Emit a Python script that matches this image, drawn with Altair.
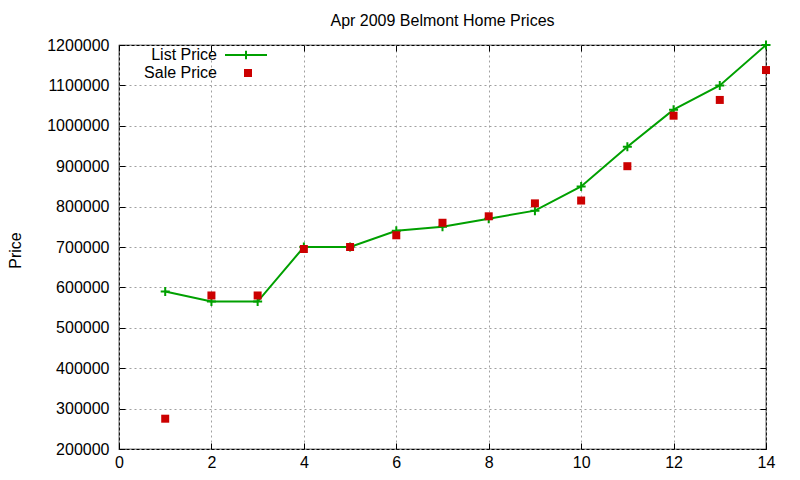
import altair as alt
import pandas as pd

months = list(range(1, 15))
list_price = [590000, 565000, 565000, 700000, 700000, 740000, 750000,
              770000, 790000, 850000, 948000, 1040000, 1100000, 1200000]
sale_price = [275000, 580000, 580000, 695000, 700000, 729000, 760000,
              776000, 808000, 815000, 900000, 1025000, 1064000, 1138000]
x_ticks = [0, 2, 4, 6, 8, 10, 12, 14]
y_ticks = list(range(200000, 1200001, 100000))

df = pd.DataFrame({"month": months, "list": list_price, "sale": sale_price})

FONT = "Liberation Sans"
FS = 16
GREEN = "#00a000"
RED = "#cc0000"

xscale = alt.Scale(domain=[0, 14], nice=False, zero=False)
yscale = alt.Scale(domain=[200000, 1200000], nice=False, zero=False)

x_main = alt.Axis(orient="bottom", values=x_ticks, format="d", grid=True,
                  gridDash=[2, 3], gridColor="#a0a0a0", gridWidth=1,
                  domain=False, tickSize=6, offset=-6, tickColor="black",
                  labelPadding=5, labelFontSize=FS, labelFont=FONT,
                  labelColor="black", labelFlush=False, labelOverlap=False,
                  title=None)
y_main = alt.Axis(orient="left", values=y_ticks, format="d", grid=True,
                  gridDash=[2, 3], gridColor="#a0a0a0", gridWidth=1,
                  domain=False, tickSize=6, offset=-6, tickColor="black",
                  labelPadding=10, labelFontSize=FS, labelFont=FONT,
                  labelColor="black", labelFlush=False, labelOverlap=False,
                  title="Price", titleFont=FONT, titleFontSize=FS,
                  titleFontWeight="normal", titleColor="black",
                  titleAngle=270, titleAlign="center", titleBaseline="middle",
                  titleX=-110, titleY=205)
x_top = alt.Axis(orient="top", values=x_ticks, grid=False, domain=False,
                 labels=False, tickSize=6, offset=-6, tickColor="black",
                 title=None)
y_right = alt.Axis(orient="right", values=y_ticks, grid=False, domain=False,
                   labels=False, tickSize=6, offset=-6, tickColor="black",
                   title=None)

base = alt.Chart(df)

line = base.mark_line(strokeWidth=2).transform_calculate(
    series="'List Price'"
).encode(
    x=alt.X("month:Q", scale=xscale, axis=x_main),
    y=alt.Y("list:Q", scale=yscale, axis=y_main),
    stroke=alt.Stroke("series:N",
                      scale=alt.Scale(domain=["List Price"], range=[GREEN]),
                      legend=alt.Legend(title=None, orient="none",
                                        legendX=105, legendY=-12, padding=0,
                                        symbolType="M-1,0H1M0,-0.2V0.2",
                                        symbolSize=1764, symbolStrokeWidth=2,
                                        labelAlign="right",
                                        labelOffset={"expr": "-51"},
                                        labelFont=FONT, labelFontSize=FS,
                                        labelColor="black")),
)

plus = base.mark_point(shape="M-1,0H1M0,-1V1", size=81, filled=False,
                       strokeWidth=2, opacity=1).encode(
    x=alt.X("month:Q", scale=xscale, axis=None),
    y=alt.Y("list:Q", scale=yscale, axis=None),
    stroke=alt.value(GREEN),
)

sale = base.mark_point(shape="square", size=64, filled=True, opacity=1,
                       strokeWidth=0).transform_calculate(
    series="'Sale Price'"
).encode(
    x=alt.X("month:Q", scale=xscale, axis=x_top),
    y=alt.Y("sale:Q", scale=yscale, axis=y_right),
    fill=alt.Fill("series:N",
                  scale=alt.Scale(domain=["Sale Price"], range=[RED]),
                  legend=alt.Legend(title=None, orient="none",
                                    legendX=121, legendY=20, padding=0,
                                    symbolType="square", symbolSize=64,
                                    symbolStrokeWidth=0,
                                    labelAlign="right",
                                    labelOffset={"expr": "-39"},
                                    labelFont=FONT, labelFontSize=FS,
                                    labelColor="black")),
)

chart = alt.layer(line, plus, sale).resolve_axis(
    x="independent", y="independent"
).properties(
    width=647, height=404,
    title=alt.TitleParams("Apr 2009 Belmont Home Prices", font=FONT,
                          fontSize=FS, fontWeight="normal", color="black",
                          anchor="middle", offset=4),
    autosize=alt.AutoSizeParams(type="none"),
    padding={"left": 111, "top": 37, "right": 26, "bottom": 23},
).configure_view(stroke="black", strokeWidth=1.2)

chart.save("out.html", embed_options={"renderer": "svg", "actions": False})
